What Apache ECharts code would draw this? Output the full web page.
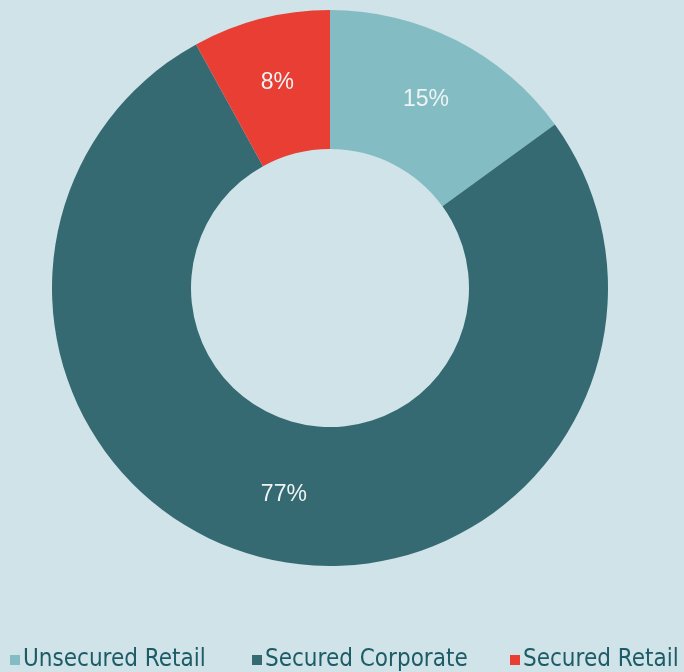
<!DOCTYPE html>
<html><head><meta charset="utf-8">
<script src="https://cdn.jsdelivr.net/npm/echarts@6/dist/echarts.min.js"></script>
<style>html,body{margin:0;padding:0;background:#cfe3e8;}#c{width:684px;height:672px;}</style>
</head><body><div id="c"></div>
<script>
const categories = ['Unsecured Retail', 'Secured Corporate', 'Secured Retail'];
const values = [15, 77, 8];
const colors = ['#84bcc4', '#356a72', '#e83e33'];
const legendLeft = [10, 252, 510];

const chart = echarts.init(document.getElementById('c'));
chart.setOption({
  backgroundColor: '#cfe3e8',
  animation: false,
  color: colors,
  legend: categories.map((n, i) => ({
    bottom: 0,
    left: legendLeft[i],
    padding: 0,
    itemWidth: 10, itemHeight: 10, icon: 'rect',
    textStyle: { fontFamily: 'DejaVu Sans Condensed', fontSize: 24, color: '#1d5c66', padding: [0,0,0,-2] },
    data: [n]
  })),
  series: [{
    type: 'pie',
    center: [330, 288],
    radius: [139, 278],
    startAngle: 90,
    clockwise: true,
    label: {
      position: 'inside',
      formatter: '{c}%',
      fontFamily: 'Liberation Sans',
      fontSize: 23,
      color: '#eef4f4'
    },
    labelLine: { show: false },
    itemStyle: { borderWidth: 0 },
    emphasis: { disabled: true },
    data: categories.map((n, i) => ({ name: n, value: values[i] }))
  }]
});
</script></body></html>
